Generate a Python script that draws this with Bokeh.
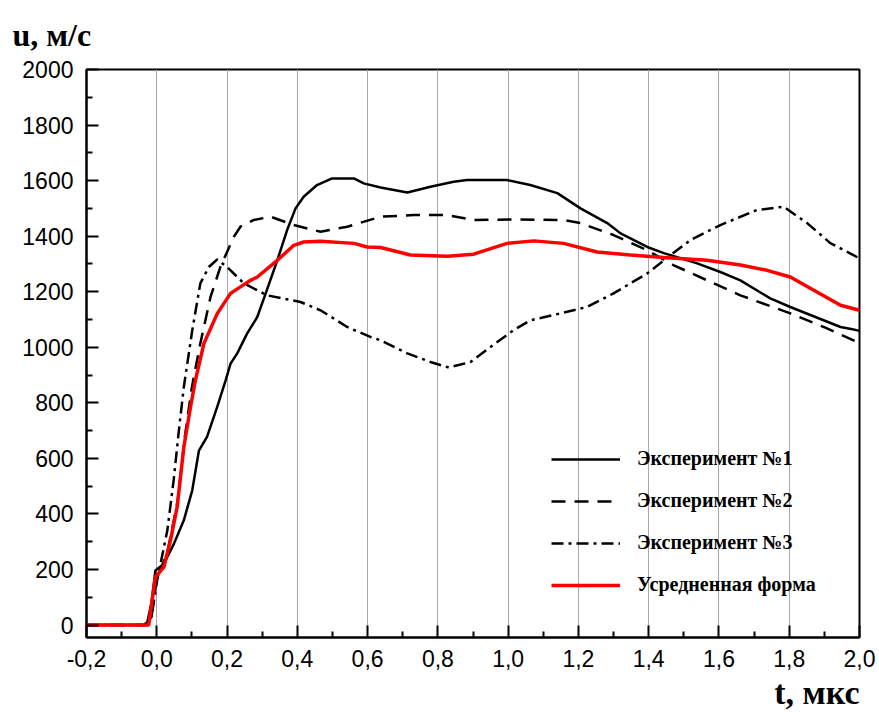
from bokeh.plotting import figure
from bokeh.models import (Range1d, FixedTicker, CustomJSTickFormatter, Title,
                          Legend, LegendItem)
from bokeh.embed import file_html
from bokeh.resources import INLINE

# --- data (t in microseconds, u in m/s) ---
t1 = [-0.2, -0.038, -0.027, -0.015, -0.004, 0.02, 0.049, 0.077, 0.101, 0.12, 0.143, 0.172, 0.196,
      0.21, 0.229, 0.257, 0.286, 0.31, 0.343, 0.371, 0.395, 0.418, 0.456, 0.499, 0.561, 0.589,
      0.637, 0.713, 0.779, 0.845, 0.883, 0.997, 1.063, 1.14, 1.206, 1.282, 1.32, 1.396, 1.443,
      1.538, 1.604, 1.661, 1.746, 1.803, 1.946, 1.98, 2.0]
u1 = [0, 0, 10, 80, 196, 220, 293, 377, 485, 628, 677, 785, 881,
      941, 978, 1049, 1109, 1194, 1313, 1422, 1500, 1542, 1584, 1608, 1608, 1590,
      1575, 1557, 1578, 1596, 1602, 1602, 1584, 1555, 1500, 1447, 1410, 1361, 1339,
      1302, 1271, 1241, 1176, 1145, 1073, 1065, 1059]

t2 = [-0.2, -0.03, -0.015, 0.0, 0.03, 0.06, 0.08, 0.1, 0.124, 0.153, 0.181, 0.219, 0.238, 0.275,
      0.324, 0.39, 0.466, 0.542, 0.637, 0.731, 0.826, 0.901, 1.015, 1.157, 1.206, 1.3, 1.395,
      1.47, 1.566, 1.661, 1.803, 1.898, 2.0]
u2 = [0, 0, 30, 170, 260, 450, 680, 857, 1014, 1181, 1289, 1397, 1434, 1458,
      1470, 1440, 1416, 1434, 1470, 1476, 1476, 1458, 1460, 1458, 1447, 1404, 1350,
      1296, 1241, 1187, 1122, 1073, 1015]

t3 = [-0.2, -0.03, -0.015, 0.001, 0.03, 0.048, 0.063, 0.077, 0.101, 0.124, 0.148, 0.172, 0.2,
      0.248, 0.314, 0.409, 0.466, 0.542, 0.608, 0.637, 0.713, 0.779, 0.831, 0.893, 0.95, 1.015,
      1.063, 1.149, 1.225, 1.3, 1.396, 1.47, 1.519, 1.604, 1.708, 1.784, 1.851, 1.917, 2.0]
u3 = [0, 0, 30, 160, 340, 521, 701, 857, 1061, 1230, 1289, 1316, 1289,
      1230, 1187, 1163, 1133, 1073, 1037, 1025, 978, 947, 927, 947, 1001, 1061,
      1097, 1122, 1145, 1194, 1266, 1339, 1386, 1440, 1494, 1506, 1447, 1375, 1320]

ta = [-0.2, -0.023, -0.004, 0.02, 0.039, 0.058, 0.077, 0.096, 0.11, 0.134, 0.172, 0.21, 0.267,
      0.286, 0.343, 0.39, 0.418, 0.466, 0.561, 0.599, 0.637, 0.722, 0.826, 0.902, 0.997, 1.073,
      1.158, 1.253, 1.348, 1.443, 1.566, 1.661, 1.737, 1.803, 1.87, 1.946, 2.0]
ua = [0, 0, 172, 208, 305, 425, 641, 785, 881, 1013, 1121, 1194, 1241,
      1253, 1313, 1367, 1379, 1382, 1374, 1361, 1359, 1332, 1328, 1335, 1374, 1383,
      1374, 1343, 1332, 1323, 1313, 1296, 1277, 1253, 1205, 1151, 1133]

names = ["Эксперимент №1", "Эксперимент №2", "Эксперимент №3", "Усредненная форма"]
x_ticks = [-0.2, 0.0, 0.2, 0.4, 0.6, 0.8, 1.0, 1.2, 1.4, 1.6, 1.8, 2.0]
x_minor = [-0.1, 0.1, 0.3, 0.5, 0.7, 0.9, 1.1, 1.3, 1.5, 1.7, 1.9]
y_ticks = [0, 200, 400, 600, 800, 1000, 1200, 1400, 1600, 1800, 2000]
y_minor = [100, 300, 500, 700, 900, 1100, 1300, 1500, 1700, 1900]

p = figure(width=879, height=716, output_backend="svg", toolbar_location=None,
           x_range=Range1d(-0.2, 2.0), y_range=Range1d(-45, 2000),
           min_border_left=86, min_border_right=20, min_border_top=69, min_border_bottom=79)
p.background_fill_color = "white"
p.border_fill_color = "white"
p.outline_line_color = "black"
p.outline_line_width = 2

p.xgrid.ticker = FixedTicker(ticks=x_ticks)
p.xgrid.grid_line_color = "#a8a8a8"
p.xgrid.grid_line_width = 1
p.ygrid.grid_line_color = None

p.xaxis.ticker = FixedTicker(ticks=x_ticks, minor_ticks=x_minor)
p.yaxis.ticker = FixedTicker(ticks=y_ticks, minor_ticks=y_minor)
p.xaxis.formatter = CustomJSTickFormatter(code="return tick.toFixed(1).replace('.', ',');")
p.yaxis.formatter = CustomJSTickFormatter(code="return tick.toFixed(0);")
for ax in (p.xaxis[0], p.yaxis[0]):
    ax.axis_line_color = "black"
    ax.axis_line_width = 2
    ax.major_tick_in = 12
    ax.major_tick_out = 0
    ax.minor_tick_in = 6
    ax.minor_tick_out = 0
    ax.major_tick_line_width = 2
    ax.minor_tick_line_width = 2
    ax.major_tick_line_color = "black"
    ax.minor_tick_line_color = "black"
    ax.major_label_text_font = "Liberation Sans"
    ax.major_label_text_font_size = "23px"
    ax.major_label_text_color = "black"
p.xaxis.major_label_standoff = 12
p.yaxis.major_label_standoff = 13

r1 = p.line(t1, u1, line_color="black", line_width=2.5)
r2 = p.line(t2, u2, line_color="black", line_width=2.5, line_dash="14 9")
r3 = p.line(t3, u3, line_color="black", line_width=2.5, line_dash="12 5 3 5")
ra = p.line(ta, ua, line_color="#ff0000", line_width=3.5)

legend = Legend(items=[LegendItem(label=names[0], renderers=[r1]),
                       LegendItem(label=names[1], renderers=[r2]),
                       LegendItem(label=names[2], renderers=[r3]),
                       LegendItem(label=names[3], renderers=[ra])],
                location=(465, 41), orientation="vertical")
legend.border_line_color = None
legend.background_fill_alpha = 0
legend.padding = 0
legend.margin = 0
legend.spacing = 19
legend.glyph_width = 69
legend.glyph_height = 20
legend.label_height = 20
legend.label_standoff = 17
legend.label_text_font = "Liberation Serif"
legend.label_text_font_style = "bold"
legend.label_text_font_size = "20px"
legend.label_text_color = "black"
p.add_layout(legend, "center")

ytitle = Title(text="u, м/с", align="left", offset=-74, standoff=29,
               vertical_align="top",
               text_font="Liberation Serif", text_font_style="bold",
               text_font_size="32px", text_color="black")
xtitle = Title(text="t, мкс", align="right", offset=0, standoff=4,
               text_font="Liberation Serif", text_font_style="bold",
               text_font_size="34px", text_color="black")
p.add_layout(ytitle, "above")
p.add_layout(xtitle, "below")

open("out.html", "w").write(file_html(p, INLINE))
